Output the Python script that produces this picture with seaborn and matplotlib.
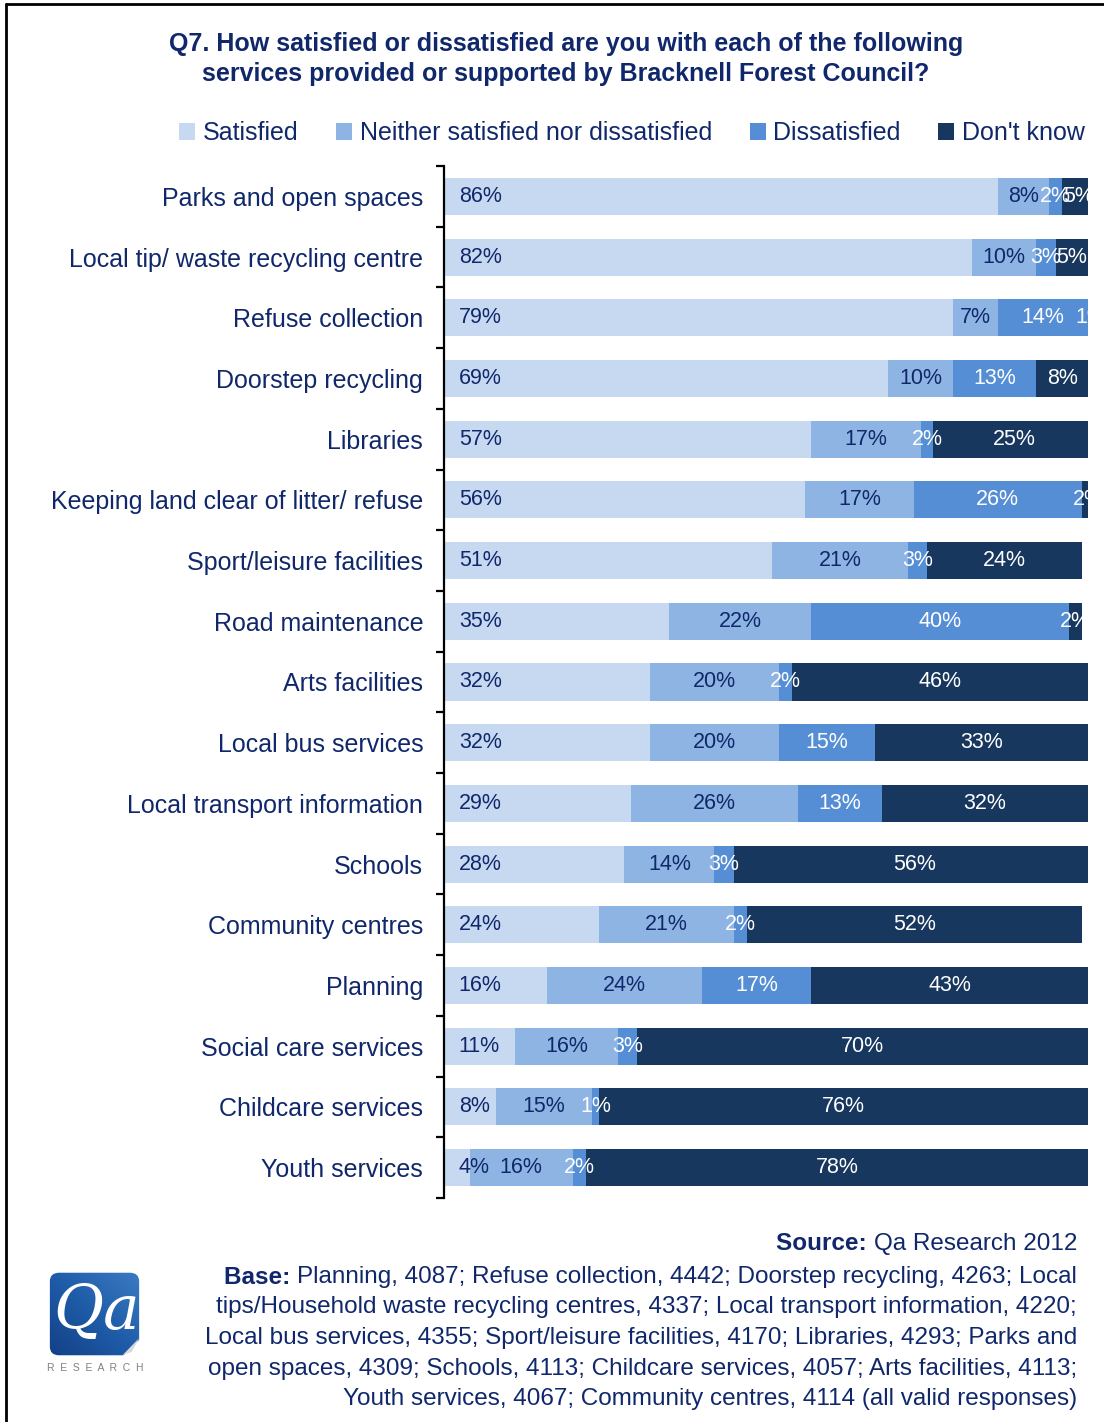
import numpy as np
import pandas as pd
import matplotlib
matplotlib.use("Agg")
import matplotlib.pyplot as plt
import seaborn as sns
from matplotlib.patches import Patch, FancyBboxPatch, Polygon
from matplotlib.ticker import FixedLocator
from matplotlib.lines import Line2D

# ---- survey results (% of valid responses), top row first ----
services = [
    "Parks and open spaces",
    "Local tip/ waste recycling centre",
    "Refuse collection",
    "Doorstep recycling",
    "Libraries",
    "Keeping land clear of litter/ refuse",
    "Sport/leisure facilities",
    "Road maintenance",
    "Arts facilities",
    "Local bus services",
    "Local transport information",
    "Schools",
    "Community centres",
    "Planning",
    "Social care services",
    "Childcare services",
    "Youth services",
]
satisfied    = [86, 82, 79, 69, 57, 56, 51, 35, 32, 32, 29, 28, 24, 16, 11, 8, 4]
neither      = [8, 10, 7, 10, 17, 17, 21, 22, 20, 20, 26, 14, 21, 24, 16, 15, 16]
dissatisfied = [2, 3, 14, 13, 2, 26, 3, 40, 2, 15, 13, 3, 2, 17, 3, 1, 2]
dont_know    = [5, 5, 1, 8, 25, 2, 24, 2, 46, 33, 32, 56, 52, 43, 70, 76, 78]

series_names = ["Satisfied", "Neither satisfied nor dissatisfied",
                "Dissatisfied", "Don't know"]
series_colors = ["#C6D9F1", "#8EB4E3", "#558ED5", "#17375E"]
label_colors = ["#10286B", "#10286B", "white", "white"]

title_lines = [
    "Q7. How satisfied or dissatisfied are you with each of the following",
    "services provided or supported by Bracknell Forest Council?",
]
source_text = "Qa Research 2012"
base_lines = [
    "Planning, 4087; Refuse collection, 4442; Doorstep recycling, 4263; Local",
    "tips/Household waste recycling centres, 4337; Local transport information, 4220;",
    "Local bus services, 4355; Sport/leisure facilities, 4170; Libraries, 4293; Parks and",
    "open spaces, 4309; Schools, 4113; Childcare services, 4057; Arts facilities, 4113;",
    "Youth services, 4067; Community centres, 4114 (all valid responses)",
]

NAVY = "#10286B"

sns.set_theme(style="white")
plt.rcParams["font.family"] = ["Liberation Sans", "DejaVu Sans"]

W, H = 1104, 1422
fig = plt.figure(figsize=(W / 100, H / 100), dpi=100)


def px_rect(x0, y0, x1, y1):
    return [x0 / W, 1 - y1 / H, (x1 - x0) / W, (y1 - y0) / H]


def fx(x):
    return x / W


def fy(y):
    return 1 - y / H


# outer frame (left and top edges)
fig.add_artist(Line2D([fx(6), fx(6)], [0, fy(4)], color="black", lw=2))
fig.add_artist(Line2D([fx(6), 1], [fy(4), fy(4)], color="black", lw=2))

# ---- stacked horizontal bars ----
ax = fig.add_axes(px_rect(444, 166, 1088, 1198))

df = pd.DataFrame({"service": services, "Satisfied": satisfied,
                   "Neither satisfied nor dissatisfied": neither,
                   "Dissatisfied": dissatisfied, "Don't know": dont_know})
values = df[series_names].to_numpy(dtype=float)
cum = values.cumsum(axis=1)

# draw running totals from the longest down so each segment sits on top
for k in reversed(range(len(series_names))):
    sns.barplot(x=cum[:, k], y=df["service"], order=services, orient="h",
                color=series_colors[k], saturation=1, width=0.61,
                linewidth=0, errorbar=None, ax=ax)

ax.set_xlim(0, 100)
ax.set_ylim(len(services) - 0.5, -0.5)
ax.set_xticks([])
ax.set_xlabel("")
ax.set_ylabel("")
for s in ["top", "right", "bottom"]:
    ax.spines[s].set_visible(False)
ax.spines["left"].set_color("black")
ax.spines["left"].set_linewidth(1.6)
ax.tick_params(axis="y", which="major", length=0, pad=15,
               labelsize=18, labelcolor=NAVY)
ax.yaxis.set_minor_locator(FixedLocator(np.arange(-0.5, len(services), 1.0)))
ax.tick_params(axis="y", which="minor", left=True, length=6, width=1.6,
               color="black", direction="out")

# value labels
for i in range(len(services)):
    for k in range(len(series_names)):
        v = values[i, k]
        if k == 0:
            xpos, ha = 2.3, "left"
        else:
            xpos, ha = cum[i, k] - v / 2, "center"
        ax.text(xpos, i, f"{int(v)}%", ha=ha, va="center", fontsize=15.5,
                color=label_colors[k], clip_on=True)

# ---- title ----
for j, line in enumerate(title_lines):
    fig.text(fx(566), fy(44 + 30 * j), line, ha="center", va="center",
             fontsize=18, fontweight="bold", color=NAVY)

# ---- legend ----
handles = [Patch(facecolor=c, edgecolor="none") for c in series_colors]
fig.legend(handles, series_names, loc="center",
           bbox_to_anchor=(fx(632), fy(133)), ncol=4, frameon=False,
           fontsize=18, handlelength=0.65, handleheight=0.65,
           handletextpad=0.3, columnspacing=1.5, borderpad=0,
           labelcolor=NAVY)

# ---- footer: source and base ----
renderer = fig.canvas.get_renderer()
FOOT = 17.5


def bold_lead(y, lead, rest, size):
    t = fig.text(fx(1077), fy(y), rest, ha="right", va="center",
                 fontsize=size, color=NAVY)
    bb = t.get_window_extent(renderer=renderer)
    fig.text(bb.x0 / W, fy(y), lead + " ", ha="right", va="center",
             fontsize=size, fontweight="bold", color=NAVY)


bold_lead(1244, "Source:", source_text, FOOT)
bold_lead(1277, "Base:", base_lines[0], FOOT)
for j, line in enumerate(base_lines[1:], start=1):
    fig.text(fx(1077), fy(1277 + 30.5 * j), line, ha="right", va="center",
             fontsize=FOOT, color=NAVY)

# ---- logo ----
lax = fig.add_axes(px_rect(48, 1271, 141, 1357))
lax.set_xlim(0, 1)
lax.set_ylim(0, 1)
lax.axis("off")
box = FancyBboxPatch((0.02, 0.02), 0.96, 0.96,
                     boxstyle="round,pad=0,rounding_size=0.1",
                     transform=lax.transAxes, facecolor="none",
                     edgecolor="none")
lax.add_patch(box)
gx, gy = np.meshgrid(np.linspace(0, 1, 64), np.linspace(0, 1, 64))
grad = gx * 0.5 + gy * 0.5
cmap = matplotlib.colors.LinearSegmentedColormap.from_list(
    "logo", ["#123F86", "#1F5CA8", "#3C7CC4"])
im = lax.imshow(grad, cmap=cmap, extent=(0, 1, 0, 1), origin="lower",
                aspect="auto")
im.set_clip_path(box)
# page curl
lax.add_patch(Polygon([[0.80, 0.0], [1.0, 0.0], [1.0, 0.22]],
                      closed=True, facecolor="white", edgecolor="none"))
lax.add_patch(Polygon([[0.80, 0.02], [0.98, 0.22], [0.90, 0.06]],
                      closed=True, facecolor="#D8D8D8", edgecolor="none"))
lax.text(0.52, 0.52, "Qa", ha="center", va="center", fontsize=44,
         family="DejaVu Serif", style="italic", color="white")
fig.text(fx(95), fy(1368), "R  E  S  E  A  R  C  H", ha="center", va="center",
         fontsize=7.5, color="#808080")

fig.savefig("out.png", dpi=100)
